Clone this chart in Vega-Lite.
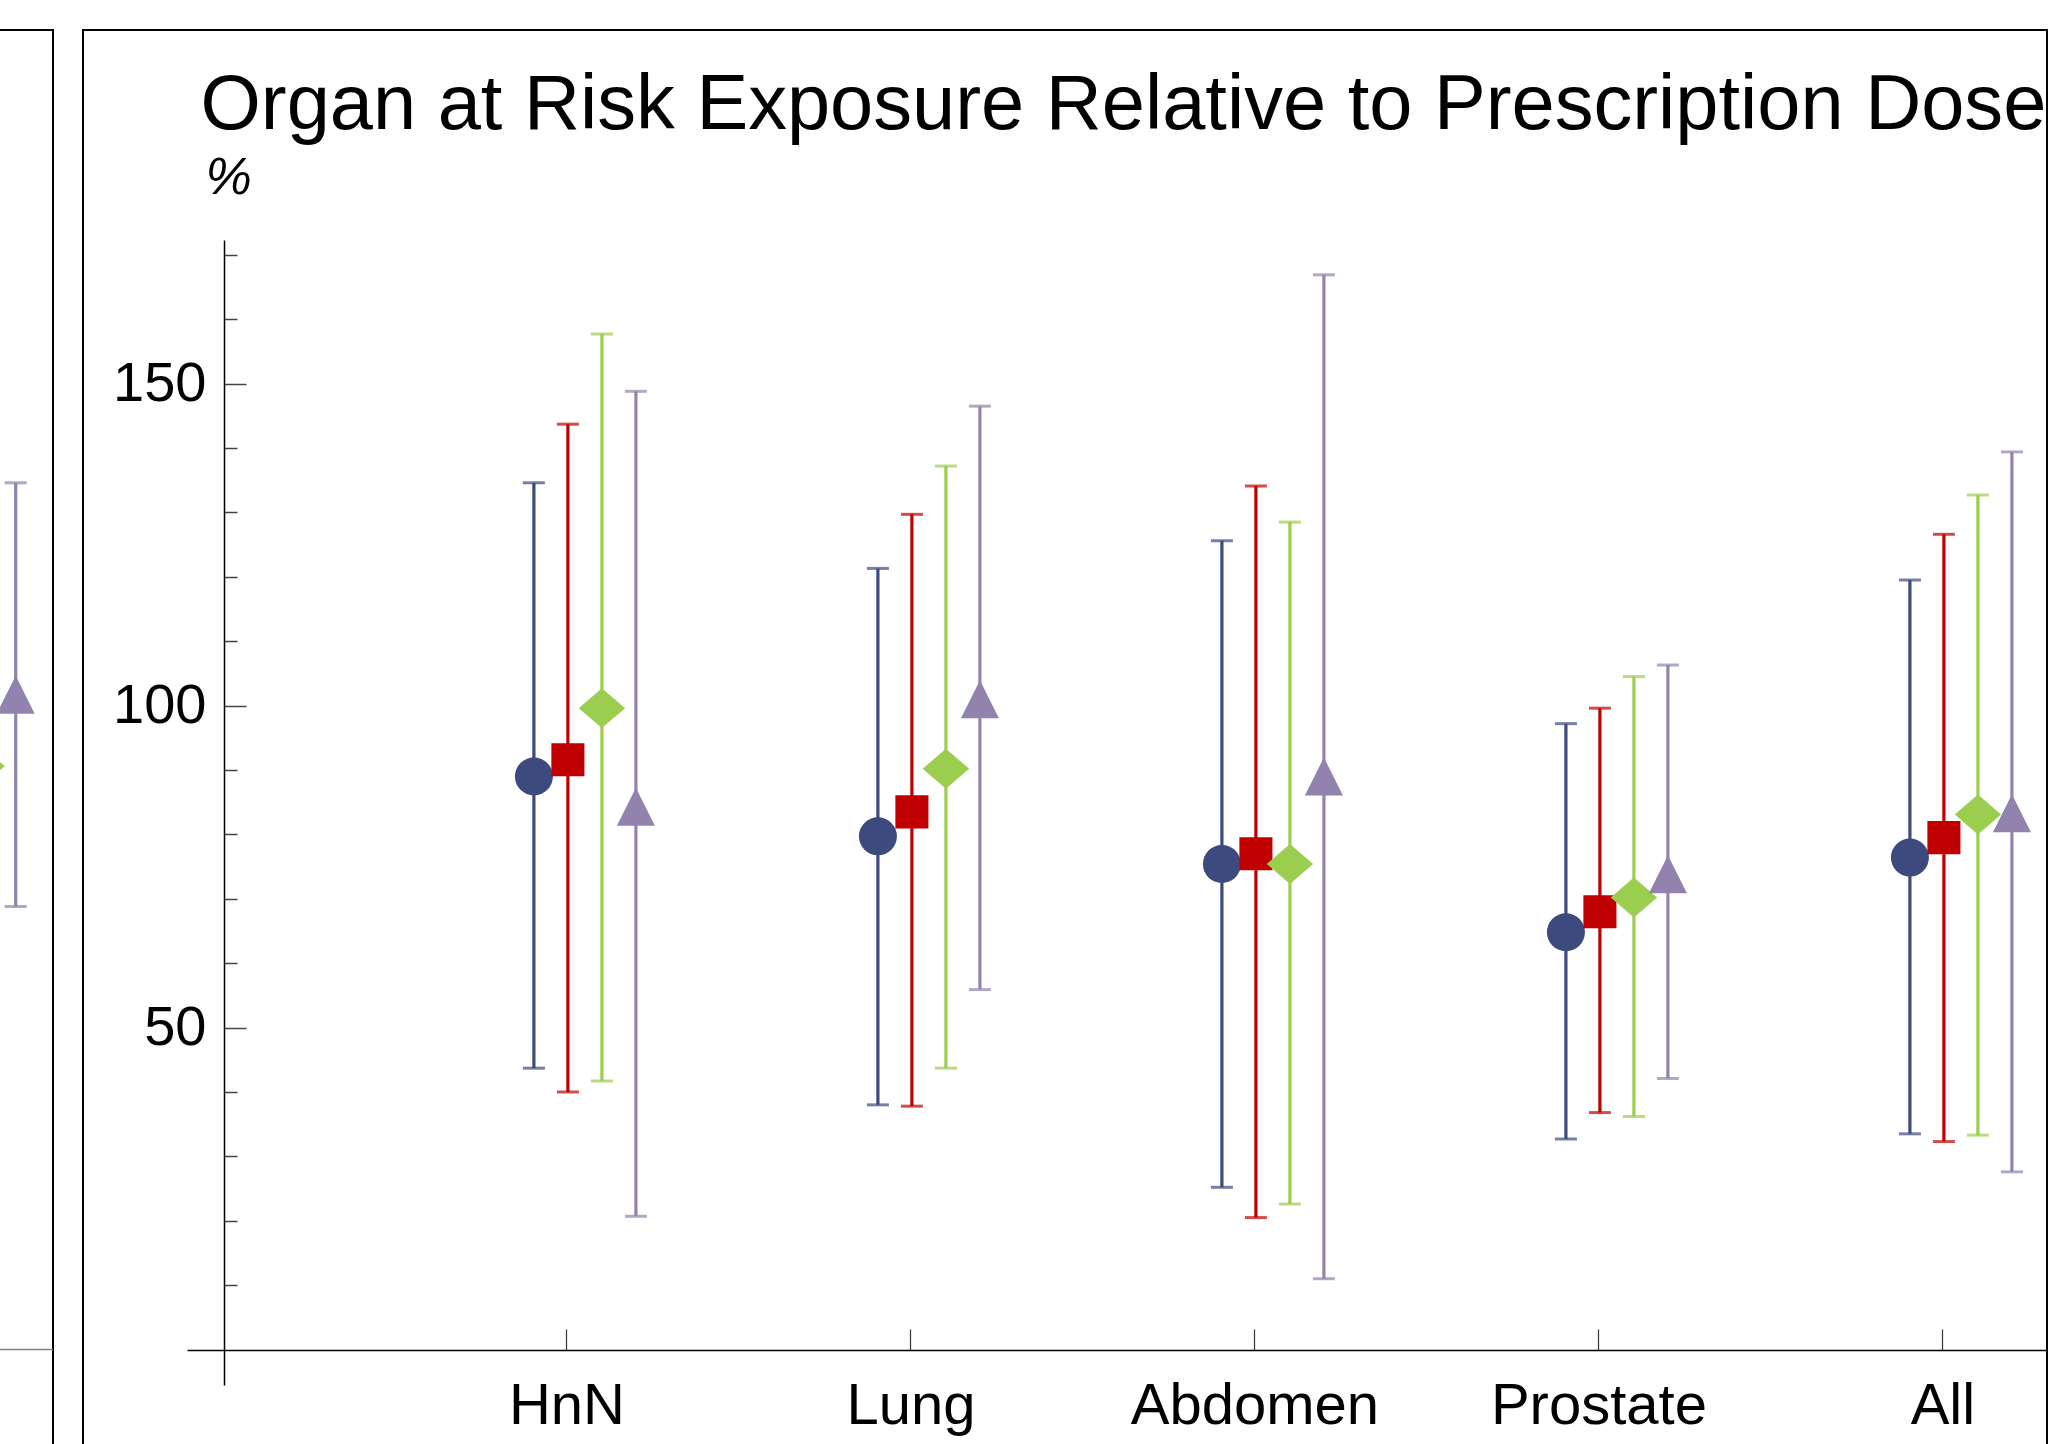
{
  "$schema": "https://vega.github.io/schema/vega-lite/v6.json",
  "background": "white",
  "padding": {"left": -349, "top": 29, "right": 0, "bottom": 0},
  "spacing": 27,
  "datasets": {
    "main": [
      {"cat": "HnN", "s": "S1", "mean": 89.0, "lo": 43.7, "hi": 134.6},
      {"cat": "HnN", "s": "S2", "mean": 91.6, "lo": 40.0, "hi": 143.7},
      {"cat": "HnN", "s": "S3", "mean": 99.6, "lo": 41.7, "hi": 157.7},
      {"cat": "HnN", "s": "S4", "mean": 84.3, "lo": 20.7, "hi": 148.8},
      {"cat": "Lung", "s": "S1", "mean": 79.7, "lo": 38.0, "hi": 121.3},
      {"cat": "Lung", "s": "S2", "mean": 83.5, "lo": 37.8, "hi": 129.7},
      {"cat": "Lung", "s": "S3", "mean": 90.2, "lo": 43.7, "hi": 137.2},
      {"cat": "Lung", "s": "S4", "mean": 101.0, "lo": 55.9, "hi": 146.5},
      {"cat": "Abdomen", "s": "S1", "mean": 75.4, "lo": 25.2, "hi": 125.6},
      {"cat": "Abdomen", "s": "S2", "mean": 77.0, "lo": 20.5, "hi": 134.1},
      {"cat": "Abdomen", "s": "S3", "mean": 75.4, "lo": 22.6, "hi": 128.5},
      {"cat": "Abdomen", "s": "S4", "mean": 89.0, "lo": 11.0, "hi": 166.9},
      {"cat": "Prostate", "s": "S1", "mean": 64.8, "lo": 32.7, "hi": 97.2},
      {"cat": "Prostate", "s": "S2", "mean": 68.0, "lo": 36.8, "hi": 99.6},
      {"cat": "Prostate", "s": "S3", "mean": 70.2, "lo": 36.2, "hi": 104.5},
      {"cat": "Prostate", "s": "S4", "mean": 73.8, "lo": 42.1, "hi": 106.3},
      {"cat": "All", "s": "S1", "mean": 76.4, "lo": 33.5, "hi": 119.5},
      {"cat": "All", "s": "S2", "mean": 79.5, "lo": 32.3, "hi": 126.6},
      {"cat": "All", "s": "S3", "mean": 83.1, "lo": 33.3, "hi": 132.7},
      {"cat": "All", "s": "S4", "mean": 83.3, "lo": 27.6, "hi": 139.4}
    ],
    "left": [
      {"cat": "All", "s": "S3", "mean": 90.6, "lo": 60.0, "hi": 122.0},
      {"cat": "All", "s": "S4", "mean": 101.7, "lo": 68.8, "hi": 134.6}
    ],
    "zero": [{"v": 0}]
  },
  "hconcat": [
    {
      "width": 400,
      "height": 1441,
      "layer": [
        {
          "data": {"name": "zero"},
          "mark": {"type": "rule", "color": "#808080", "strokeWidth": 1.5},
          "encoding": {
            "y": {"field": "v", "type": "quantitative", "axis": null,
                  "scale": {"domain": [-5.5, 172.3], "range": [1355, 210], "nice": false, "zero": false}}
          }
        },
        {
          "data": {"name": "left"},
          "mark": {"type": "rule", "strokeWidth": 3.2},
          "encoding": {
            "x": {"field": "cat", "type": "nominal", "axis": null,
                  "scale": {"domain": ["All"], "range": [121.7, 465.7], "paddingInner": 0, "paddingOuter": 0}},
            "xOffset": {"field": "s", "type": "nominal", "scale": {"domain": ["S1", "S2", "S3", "S4"], "range": [122, 258], "paddingInner": 0, "paddingOuter": 0}},
            "y": {"field": "lo", "type": "quantitative"},
            "y2": {"field": "hi"},
            "color": {"field": "s", "type": "nominal", "legend": null,
                      "scale": {"domain": ["S1", "S2", "S3", "S4"], "range": ["#3c4a7d", "#c00000", "#9bcd4f", "#9283ae"]}}
          }
        },
        {
          "data": {"name": "left"},
          "mark": {"type": "tick", "size": 22, "thickness": 3, "orient": "horizontal"},
          "encoding": {
            "x": {"field": "cat", "type": "nominal"},
            "xOffset": {"field": "s", "type": "nominal"},
            "y": {"field": "lo", "type": "quantitative"},
            "color": {"field": "s", "type": "nominal"}
          }
        },
        {
          "data": {"name": "left"},
          "mark": {"type": "tick", "size": 22, "thickness": 3, "orient": "horizontal"},
          "encoding": {
            "x": {"field": "cat", "type": "nominal"},
            "xOffset": {"field": "s", "type": "nominal"},
            "y": {"field": "hi", "type": "quantitative"},
            "color": {"field": "s", "type": "nominal"}
          }
        },
        {
          "data": {"name": "left"},
          "mark": {"type": "point", "filled": true, "opacity": 1, "size": 1444, "strokeWidth": 0},
          "encoding": {
            "x": {"field": "cat", "type": "nominal"},
            "xOffset": {"field": "s", "type": "nominal"},
            "y": {"field": "mean", "type": "quantitative"},
            "color": {"field": "s", "type": "nominal"},
            "shape": {"field": "s", "type": "nominal", "legend": null,
                      "scale": {"domain": ["S1", "S2", "S3", "S4"],
                                "range": ["circle", "M-0.87,-0.87L0.87,-0.87L0.87,0.87L-0.87,0.87Z", "M-1.22,0L0,-1.05L1.22,0L0,1.05Z", "M0,-1L1,1L-1,1Z"]}}
          }
        }
      ]
    },
    {
      "width": 1964,
      "height": 1441,
      "data": {"name": "main"},
      "layer": [
        {
          "mark": {"type": "rule", "strokeWidth": 3.2},
          "encoding": {
            "x": {"field": "cat", "type": "nominal",
                  "scale": {"domain": ["HnN", "Lung", "Abdomen", "Prostate", "All"], "range": [104, 2060], "paddingInner": 0, "paddingOuter": 0.343, "align": 0.881},
                  "axis": {"title": "Organ at Risk Exposure Relative to Prescription Dose",
                           "titleX": 117, "titleY": -1222, "titleAlign": "left", "titleBaseline": "alphabetic", "titleAngle": 0,
                           "titleFont": "Liberation Sans", "titleFontSize": 77.6, "titleFontWeight": "normal", "titleColor": "black", "titleLimit": 0,
                           "orient": "bottom", "offset": -121, "domain": true, "domainColor": "black", "domainWidth": 1.5,
                           "ticks": true, "tickSize": -21, "tickColor": "#333333", "tickWidth": 1.2,
                           "labelAngle": 0, "labelFont": "Liberation Sans", "labelFontSize": 58, "labelColor": "black", "labelLimit": 0,
                           "labelPadding": 48, "labelBaseline": "top", "labelOverlap": false, "grid": false}},
            "xOffset": {"field": "s", "type": "nominal", "scale": {"domain": ["S1", "S2", "S3", "S4"], "range": [122, 258], "paddingInner": 0, "paddingOuter": 0}},
            "y": {"field": "lo", "type": "quantitative",
                  "scale": {"domain": [-5.5, 172.3], "range": [1355, 210], "nice": false, "zero": false},
                  "axis": {"title": "%", "titleAngle": 0, "titleAlign": "left", "titleBaseline": "alphabetic", "titleX": -19, "titleY": 163,
                           "titleFont": "Liberation Sans", "titleFontSize": 52, "titleFontStyle": "italic", "titleFontWeight": "normal", "titleColor": "black",
                           "orient": "left", "offset": -141, "values": [10, 20, 30, 40, 50, 60, 70, 80, 90, 100, 110, 120, 130, 140, 150, 160, 170],
                           "domain": true, "domainColor": "black", "domainWidth": 1.5,
                           "tickColor": "#444444", "tickWidth": 1.5,
                           "tickSize": {"condition": {"test": "datum.value % 50 === 0", "value": -22}, "value": -13},
                           "labelExpr": "datum.value % 50 === 0 ? datum.label : ''",
                           "labelFont": "Liberation Sans", "labelFontSize": 56, "labelColor": "black", "labelPadding": 40, "labelLimit": 0,
                           "labelOverlap": false, "labelFlush": false, "grid": false}},
            "y2": {"field": "hi"},
            "color": {"field": "s", "type": "nominal", "legend": null,
                      "scale": {"domain": ["S1", "S2", "S3", "S4"], "range": ["#3c4a7d", "#c00000", "#9bcd4f", "#9283ae"]}}
          }
        },
        {
          "mark": {"type": "tick", "size": 22, "thickness": 3, "orient": "horizontal"},
          "encoding": {
            "x": {"field": "cat", "type": "nominal"},
            "xOffset": {"field": "s", "type": "nominal"},
            "y": {"field": "lo", "type": "quantitative"},
            "color": {"field": "s", "type": "nominal"}
          }
        },
        {
          "mark": {"type": "tick", "size": 22, "thickness": 3, "orient": "horizontal"},
          "encoding": {
            "x": {"field": "cat", "type": "nominal"},
            "xOffset": {"field": "s", "type": "nominal"},
            "y": {"field": "hi", "type": "quantitative"},
            "color": {"field": "s", "type": "nominal"}
          }
        },
        {
          "mark": {"type": "point", "filled": true, "opacity": 1, "size": 1444, "strokeWidth": 0},
          "encoding": {
            "x": {"field": "cat", "type": "nominal"},
            "xOffset": {"field": "s", "type": "nominal"},
            "y": {"field": "mean", "type": "quantitative"},
            "color": {"field": "s", "type": "nominal"},
            "shape": {"field": "s", "type": "nominal", "legend": null,
                      "scale": {"domain": ["S1", "S2", "S3", "S4"],
                                "range": ["circle", "M-0.87,-0.87L0.87,-0.87L0.87,0.87L-0.87,0.87Z", "M-1.22,0L0,-1.05L1.22,0L0,1.05Z", "M0,-1L1,1L-1,1Z"]}}
          }
        }
      ]
    }
  ],
  "config": {
    "view": {"stroke": "black", "strokeWidth": 2},
    "font": "Liberation Sans"
  }
}
